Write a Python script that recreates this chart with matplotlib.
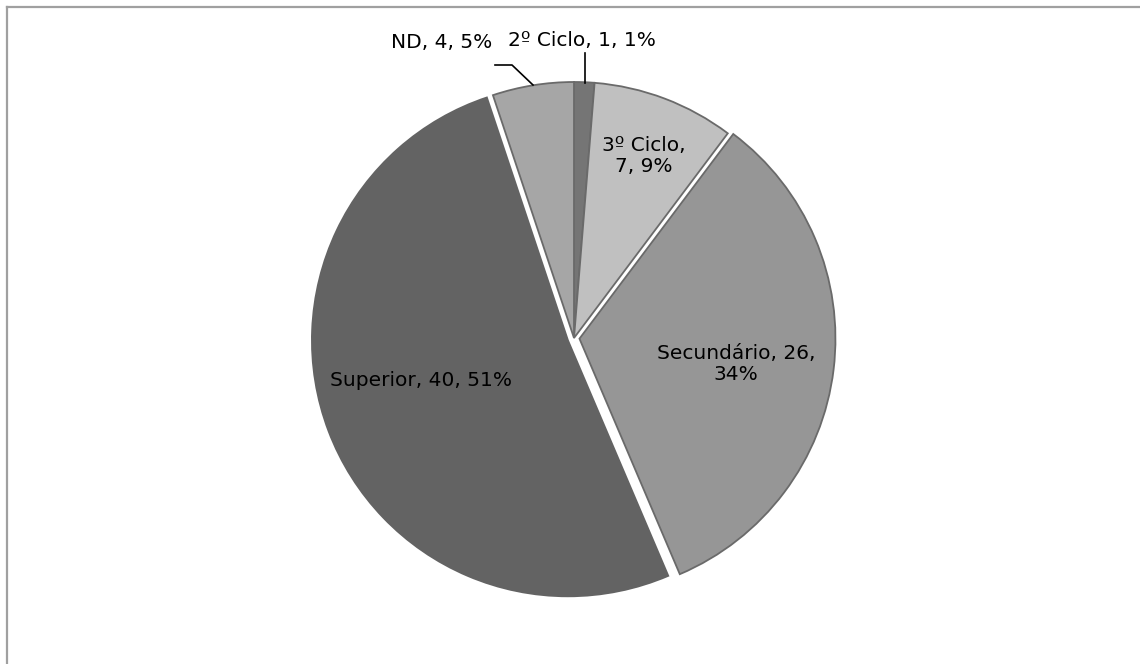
import matplotlib.pyplot as plt
from matplotlib.lines import Line2D

# education level breakdown
categories = ["2º Ciclo", "3º Ciclo", "Secundário", "Superior", "ND"]
counts = [1, 7, 26, 40, 4]
percents = [1, 9, 34, 51, 5]
colors = ["#757575", "#c0c0c0", "#969696", "#636363", "#a6a6a6"]
# pie.explode is an absolute offset in data units (pixels here)
explode = [0, 0, 5.5, 6.5, 0]

W, H = 1140, 664
fig = plt.figure(figsize=(W / 100, H / 100), dpi=100)
ax = fig.add_axes([0, 0, 1, 1])

cx, cy, r = 574, H - 338, 256
wedges, _ = ax.pie(counts, colors=colors, explode=explode, startangle=90,
                   counterclock=False, center=(cx, cy), radius=r,
                   wedgeprops=dict(edgecolor="#6a6a6a", linewidth=1.3),
                   frame=True)
wedges[3].set_edgecolor(colors[3])
ax.set_xlim(0, W)
ax.set_ylim(0, H)
ax.set_aspect("equal")
ax.axis("off")

labels = [f"{c}, {n}, {p}%" for c, n, p in zip(categories, counts, percents)]
txt = dict(fontsize=14.5, family="DejaVu Sans", color="black",
           ha="center", va="center", linespacing=1.1)

# data labels: outside ones with leader lines, inside ones centred
ax.text(582, H - 41, labels[0], **txt)
ax.plot([585, 585], [H - 53, H - 83], color="black", lw=1.2)
ax.text(644, H - 156, "3º Ciclo,\n7, 9%", **txt)
ax.text(736, H - 364, "Secundário, 26,\n34%", **txt)
ax.text(421, H - 381, labels[3], **txt)
ax.text(442, H - 43, labels[4], **txt)
ax.plot([495, 512, 533], [H - 65, H - 65, H - 85], color="black", lw=1.2)

# chart area border (left and top edges visible)
fig.add_artist(Line2D([7 / W, 7 / W], [0, 1 - 7 / H], color="#a0a0a0", lw=1.6))
fig.add_artist(Line2D([7 / W, 1], [1 - 7 / H, 1 - 7 / H], color="#a0a0a0", lw=1.6))

fig.savefig("out.png", dpi=100)
